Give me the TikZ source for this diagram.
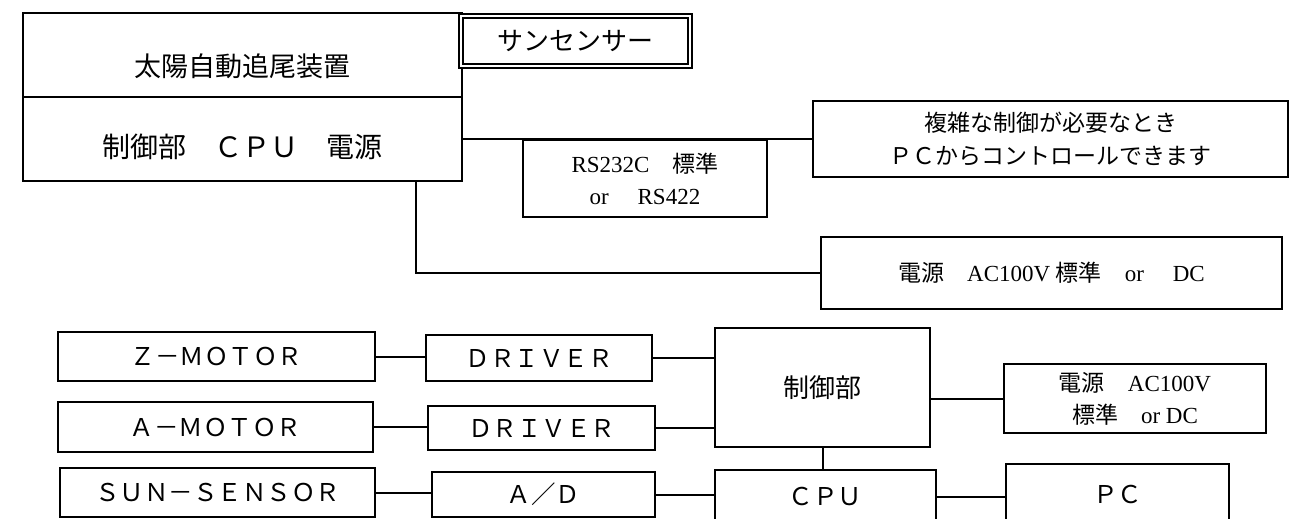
\documentclass[tikz,border=0pt]{standalone}
\usepackage{fontspec}
\setmainfont{Liberation Serif}
\newfontfamily\jp{Noto Sans CJK JP}

\begin{document}
\begin{tikzpicture}[x = 1pt, y = -1pt, line width = 2pt,
    box/.style = {draw, inner sep = 0pt},
    serif/.style = {font = \fontsize{23}{32}\selectfont},
    kana/.style = {font = \jp\fontsize{23}{33}\selectfont},
    wide/.style = {font = \jp\fontsize{24.5}{33}\selectfont}]
  \clip (0,0) rectangle (1302,519);
  \fill [white] (0,0) rectangle (1302,519);

  \node [box, minimum width = 439pt, text height = 64pt, text depth = 20pt,
         font = \jp\fontsize{27}{32}\selectfont]
    (title) at (242.5,55) {太陽自動追尾装置};
  \node [box, minimum width = 439pt, text height = 60pt, text depth = 24pt,
         font = \jp\fontsize{28}{32}\selectfont]
    (unit) at (242.5,139) {制御部　ＣＰＵ　電源};
  \node [box, double, double distance = 2.5pt, minimum width = 229pt,
         minimum height = 50pt, font = \jp\fontsize{26}{30}\selectfont]
    (sunbox) at (575.5,41) {サンセンサー};
  \node [box, kana, align = center, minimum width = 475pt, minimum height = 76pt]
    (remote) at (1050.5,139) {複雑な制御が必要なとき\\ＰＣからコントロールできます};
  \node [box, serif, align = center, anchor = north,
         minimum width = 244pt, minimum height = 77pt]
    (link) at (645,139) {RS232C{\jp 　標準}\\or{\jp 　} RS422};
  \node [box, serif, minimum width = 461pt, minimum height = 72pt]
    (mains) at (1051.5,273) {{\jp 電源　}AC100V {\jp 標準　}or{\jp 　} DC};
  \coordinate (tap) at (416,181);
  \draw (unit.east) -- (remote.west);
  \draw (tap) |- (mains.west);

  \node [box, wide, minimum width = 317pt, minimum height = 49pt]
    (zmotor) at (216.5,356.5) {Ｚ－ＭＯＴＯＲ};
  \node [box, wide, minimum width = 315pt, minimum height = 50pt]
    (amotor) at (215.5,427) {Ａ－ＭＯＴＯＲ};
  \node [box, wide, minimum width = 315pt, minimum height = 49pt]
    (sensor) at (217.5,492.5) {ＳＵＮ－ＳＥＮＳＯＲ};
  \node [box, wide, minimum width = 226pt, minimum height = 46pt]
    (zdriver) at (539,358) {ＤＲＩＶＥＲ};
  \node [box, wide, minimum width = 227pt, minimum height = 44pt]
    (adriver) at (541.5,428) {ＤＲＩＶＥＲ};
  \node [box, wide, minimum width = 223pt, minimum height = 45pt]
    (adc) at (543.5,494.5) {Ａ／Ｄ};
  \node [box, font = \jp\fontsize{26}{30}\selectfont,
         minimum width = 215pt, minimum height = 119pt]
    (ctrl) at (822.5,387.5) {制御部};
  \node [box, wide, minimum width = 221pt, minimum height = 54pt]
    (cpu) at (825.5,497) {ＣＰＵ};
  \node [box, serif, align = center, minimum width = 262pt, minimum height = 69pt]
    (psu) at (1135,398.5) {{\jp 電源　}AC100V\\{\jp 標準　}or DC};
  \node [box, wide, minimum width = 223pt, minimum height = 60pt]
    (pc) at (1117.5,494) {ＰＣ};

  \draw (zmotor.east) -- (zmotor.east -| zdriver.west);
  \draw (amotor.east) -- (amotor.east -| adriver.west);
  \draw (sensor.east) -- (sensor.east -| adc.west);
  \draw (zdriver.east) -- (zdriver.east -| ctrl.west);
  \draw (adriver.east) -- (adriver.east -| ctrl.west);
  \draw (adc.east) -- (adc.east -| cpu.west);
  \draw (ctrl.south) -- (ctrl.south |- cpu.north);
  \draw (psu.west) -- (psu.west -| ctrl.east);
  \draw (cpu.east) -- (cpu.east -| pc.west);
\end{tikzpicture}
\end{document}
